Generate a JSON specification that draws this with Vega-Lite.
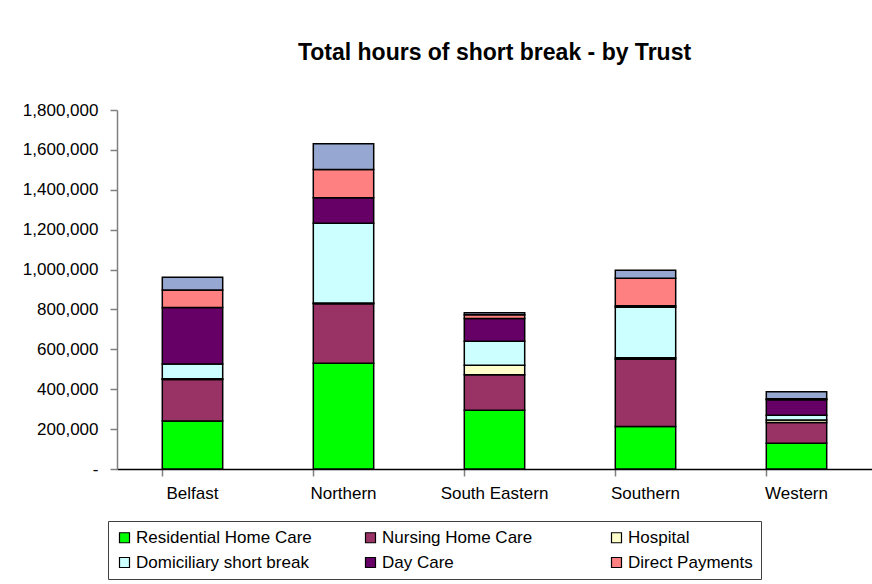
{
  "$schema": "https://vega.github.io/schema/vega-lite/v6.json",
  "width": 755,
  "height": 359,
  "autosize": {"type": "none"},
  "padding": {"left": 117, "top": 110, "right": 0, "bottom": 115},
  "background": "white",
  "title": {
    "text": "Total hours of short break - by Trust",
    "font": "Liberation Sans",
    "fontSize": 23,
    "fontWeight": "bold",
    "color": "#000000",
    "anchor": "middle",
    "frame": "group",
    "baseline": "alphabetic",
    "offset": 18
  },
  "config": {
    "view": {"stroke": null},
    "font": "Liberation Sans"
  },
  "data": {
    "values": [
      {"Trust": "Belfast", "Type": "Residential Home Care", "Hours": 241000, "o": 1},
      {"Trust": "Belfast", "Type": "Nursing Home Care", "Hours": 208000, "o": 2},
      {"Trust": "Belfast", "Type": "Hospital", "Hours": 3000, "o": 3},
      {"Trust": "Belfast", "Type": "Domiciliary short break", "Hours": 74000, "o": 4},
      {"Trust": "Belfast", "Type": "Day Care", "Hours": 284000, "o": 5},
      {"Trust": "Belfast", "Type": "Direct Payments", "Hours": 87000, "o": 6},
      {"Trust": "Belfast", "Type": "Other", "Hours": 65000, "o": 7},
      {"Trust": "Northern", "Type": "Residential Home Care", "Hours": 530000, "o": 1},
      {"Trust": "Northern", "Type": "Nursing Home Care", "Hours": 298000, "o": 2},
      {"Trust": "Northern", "Type": "Hospital", "Hours": 4000, "o": 3},
      {"Trust": "Northern", "Type": "Domiciliary short break", "Hours": 400000, "o": 4},
      {"Trust": "Northern", "Type": "Day Care", "Hours": 128000, "o": 5},
      {"Trust": "Northern", "Type": "Direct Payments", "Hours": 142000, "o": 6},
      {"Trust": "Northern", "Type": "Other", "Hours": 129000, "o": 7},
      {"Trust": "South Eastern", "Type": "Residential Home Care", "Hours": 295000, "o": 1},
      {"Trust": "South Eastern", "Type": "Nursing Home Care", "Hours": 178000, "o": 2},
      {"Trust": "South Eastern", "Type": "Hospital", "Hours": 47000, "o": 3},
      {"Trust": "South Eastern", "Type": "Domiciliary short break", "Hours": 120000, "o": 4},
      {"Trust": "South Eastern", "Type": "Day Care", "Hours": 115000, "o": 5},
      {"Trust": "South Eastern", "Type": "Direct Payments", "Hours": 18000, "o": 6},
      {"Trust": "South Eastern", "Type": "Other", "Hours": 10000, "o": 7},
      {"Trust": "Southern", "Type": "Residential Home Care", "Hours": 213000, "o": 1},
      {"Trust": "Southern", "Type": "Nursing Home Care", "Hours": 337000, "o": 2},
      {"Trust": "Southern", "Type": "Hospital", "Hours": 8000, "o": 3},
      {"Trust": "Southern", "Type": "Domiciliary short break", "Hours": 253000, "o": 4},
      {"Trust": "Southern", "Type": "Day Care", "Hours": 7000, "o": 5},
      {"Trust": "Southern", "Type": "Direct Payments", "Hours": 138000, "o": 6},
      {"Trust": "Southern", "Type": "Other", "Hours": 40000, "o": 7},
      {"Trust": "Western", "Type": "Residential Home Care", "Hours": 129000, "o": 1},
      {"Trust": "Western", "Type": "Nursing Home Care", "Hours": 104000, "o": 2},
      {"Trust": "Western", "Type": "Hospital", "Hours": 13000, "o": 3},
      {"Trust": "Western", "Type": "Domiciliary short break", "Hours": 24000, "o": 4},
      {"Trust": "Western", "Type": "Day Care", "Hours": 77000, "o": 5},
      {"Trust": "Western", "Type": "Direct Payments", "Hours": 5000, "o": 6},
      {"Trust": "Western", "Type": "Other", "Hours": 35000, "o": 7}
    ]
  },
  "mark": {"type": "bar", "stroke": "#000000", "strokeWidth": 1.5},
  "encoding": {
    "x": {
      "field": "Trust",
      "type": "nominal",
      "sort": ["Belfast", "Northern", "South Eastern", "Southern", "Western"],
      "scale": {"paddingInner": 0.6, "paddingOuter": 0.3},
      "axis": {
        "title": null,
        "labelAngle": 0,
        "labelFont": "Liberation Sans",
        "labelFontSize": 17,
        "labelColor": "#000000",
        "labelPadding": 9,
        "domainColor": "#000000",
        "domainWidth": 1.5,
        "tickColor": "#808080",
        "tickWidth": 1.5,
        "tickSize": 7,
        "bandPosition": 0
      }
    },
    "y": {
      "field": "Hours",
      "type": "quantitative",
      "aggregate": "sum",
      "stack": "zero",
      "scale": {"domain": [0, 1800000], "nice": false},
      "axis": {
        "title": null,
        "values": [0, 200000, 400000, 600000, 800000, 1000000, 1200000, 1400000, 1600000, 1800000],
        "labelExpr": "datum.value === 0 ? '-' : format(datum.value, ',')",
        "labelFont": "Liberation Sans",
        "labelFontSize": 17,
        "labelColor": "#000000",
        "labelPadding": 12,
        "domainColor": "#808080",
        "domainWidth": 1.5,
        "tickColor": "#808080",
        "tickWidth": 1.5,
        "tickSize": 7,
        "grid": false
      }
    },
    "color": {
      "field": "Type",
      "type": "nominal",
      "scale": {
        "domain": ["Residential Home Care", "Nursing Home Care", "Hospital", "Domiciliary short break", "Day Care", "Direct Payments", "Other"],
        "range": ["#00FF00", "#993366", "#FFFFCC", "#CCFFFF", "#660066", "#FF8080", "#96A8D2"]
      },
      "legend": {
        "values": ["Residential Home Care", "Nursing Home Care", "Hospital", "Domiciliary short break", "Day Care", "Direct Payments"],
        "title": null,
        "orient": "none",
        "legendX": -9,
        "legendY": 411,
        "direction": "horizontal",
        "columns": 3,
        "gridAlign": "all",
        "columnPadding": 50,
        "rowPadding": 7,
        "padding": 8,
        "symbolType": "square",
        "symbolSize": 100,
        "symbolStrokeColor": "#000000",
        "symbolStrokeWidth": 1.2,
        "symbolOpacity": 1,
        "labelFont": "Liberation Sans",
        "labelFontSize": 17,
        "labelColor": "#000000",
        "labelLimit": 300,
        "labelOffset": 3,
        "strokeColor": "#404040",
        "fillColor": "#FFFFFF"
      }
    },
    "order": {"field": "o", "type": "quantitative", "sort": "ascending"}
  }
}
